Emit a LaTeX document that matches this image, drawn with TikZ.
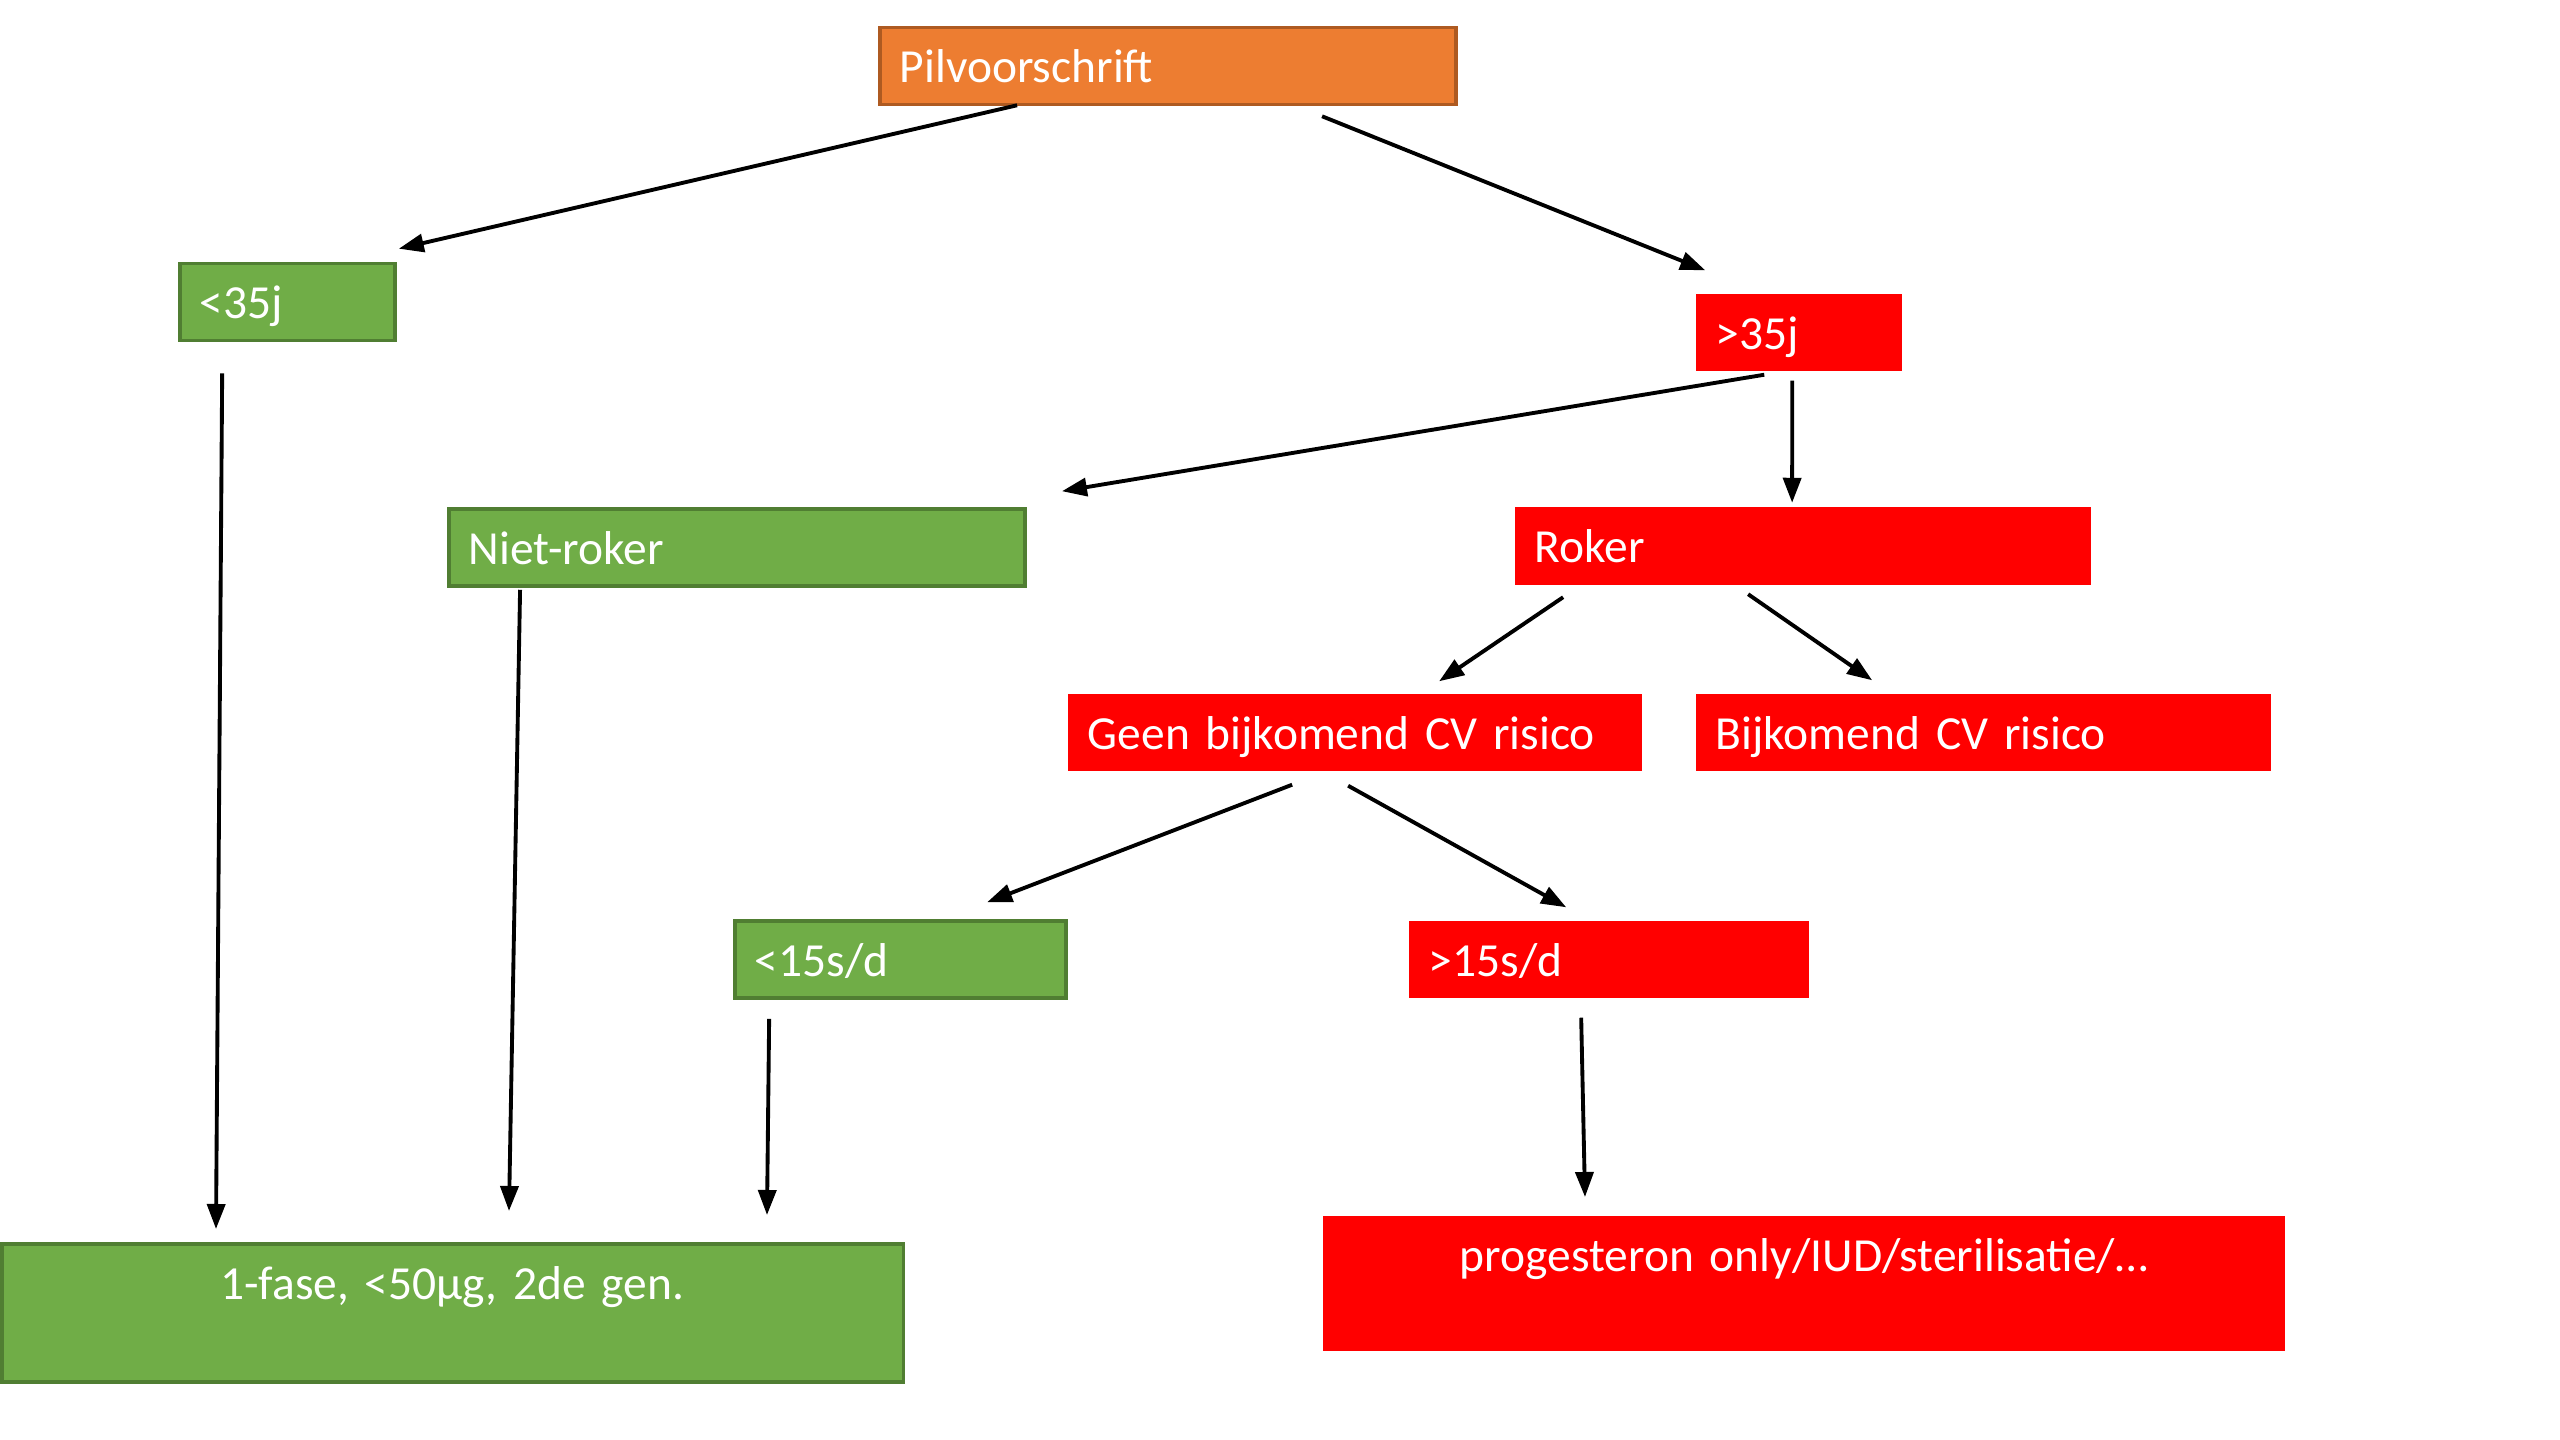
\documentclass[tikz,border=0pt]{standalone}
\usepackage{fontspec}
\setmainfont{Carlito}
\usepackage{xcolor}
\usetikzlibrary{arrows.meta, calc}

\definecolor{grn}{HTML}{70AD47}
\definecolor{grnd}{HTML}{507E32}
\definecolor{orng}{HTML}{ED7D31}
\definecolor{orngd}{HTML}{AE5A21}
\definecolor{rd}{HTML}{FF0000}

\tikzset{
  box/.style={text=white, text height=0.55cm, text depth=0.22cm, inner xsep=0.2cm, inner ysep=0cm, align=left},
  greenbox/.style={box, fill=grn, draw=grnd, line width=1pt},
  redbox/.style={box, fill=rd},
  orangebox/.style={box, fill=orng, draw=orngd, line width=1pt},
  endbox/.style={text=white, inner xsep=0cm, inner ysep=0.2cm, align=center, text height=0.36cm},
  arr/.style={-{Triangle[length=0.25cm, width=0.18cm]}, line width=1.1pt}
}

\begin{document}
\begin{tikzpicture}[x=0.01cm, y=-0.01cm, font=\fontsize{13.5}{16}\selectfont]
      \useasboundingbox (0,0) rectangle (2560,1440);

      \node[orangebox, text width=5.36cm] (pil)   at (1168,  66)   {Pilvoorschrift};
      \node[greenbox,  text width=1.75cm] (jong)  at (287.5, 302)  {<35j};
      \node[redbox,    text width=1.66cm] (oud)   at (1799, 332.5) {>35j};

      \node[greenbox,  text width=5.36cm] (niet)  at (737,  547.5) {Niet-roker};
      \node[redbox,    text width=5.36cm] (roker) at (1803, 546)   {Roker};

      \node[redbox,    text width=5.34cm] (geen)  at (1355, 732.5) {Geen bijkomend CV risico};
      \node[redbox,    text width=5.35cm] (bijk)  at (1983.5, 732.5) {Bijkomend CV risico};

      \node[greenbox,  text width=2.91cm] (weinig) at (900.5, 959.5) {<15s/d};
      \node[redbox,    text width=3.60cm] (veel)   at (1609,  959.5) {>15s/d};

      \node[endbox, fill=grn, draw=grnd, line width=1pt, text width=9.01cm, text depth=0.62cm,
            anchor=north west] (fase) at (0, 1242) {1-fase, <50µg, 2de gen.};
      \node[endbox, fill=rd, text width=9.62cm, text depth=0.59cm,
            anchor=north west] (prog) at (1322, 1215) {progesteron only/IUD/sterilisatie/\dots};

      \draw[arr] ($(pil.south west)+(139,-1)$)    -- ($(jong.north east)+(2,-13)$);
      \draw[arr] ($(pil.south west)+(444,10)$)    -- ($(oud.north west)+(10,-23)$);

      \draw[arr] ($(jong.south west)+(44,31)$)    -- ($(fase.north west)+(216,-13)$);

      \draw[arr] ($(oud.south west)+(69,3)$)      -- ($(niet.north east)+(35,-16)$);
      \draw[arr] ($(oud.south west)+(97,9)$)      -- ($(roker.north west)+(278,-4)$);

      \draw[arr] ($(niet.south west)+(73,2)$)     -- ($(fase.north west)+(509,-31)$);

      \draw[arr] ($(roker.south west)+(49,12)$)   -- ($(geen.north west)+(372,-12)$);
      \draw[arr] ($(roker.south west)+(234,9)$)   -- ($(bijk.north west)+(177,-13)$);

      \draw[arr] ($(geen.south west)+(225,13)$)   -- ($(weinig.north west)+(254,-17)$);
      \draw[arr] ($(geen.south west)+(281,14)$)   -- ($(veel.north west)+(158,-13)$);

      \draw[arr] ($(weinig.south west)+(36,19)$)  -- ($(fase.north west)+(767,-27)$);
      \draw[arr] ($(veel.south west)+(173,19)$)   -- ($(prog.north west)+(263,-18)$);
\end{tikzpicture}
\end{document}
